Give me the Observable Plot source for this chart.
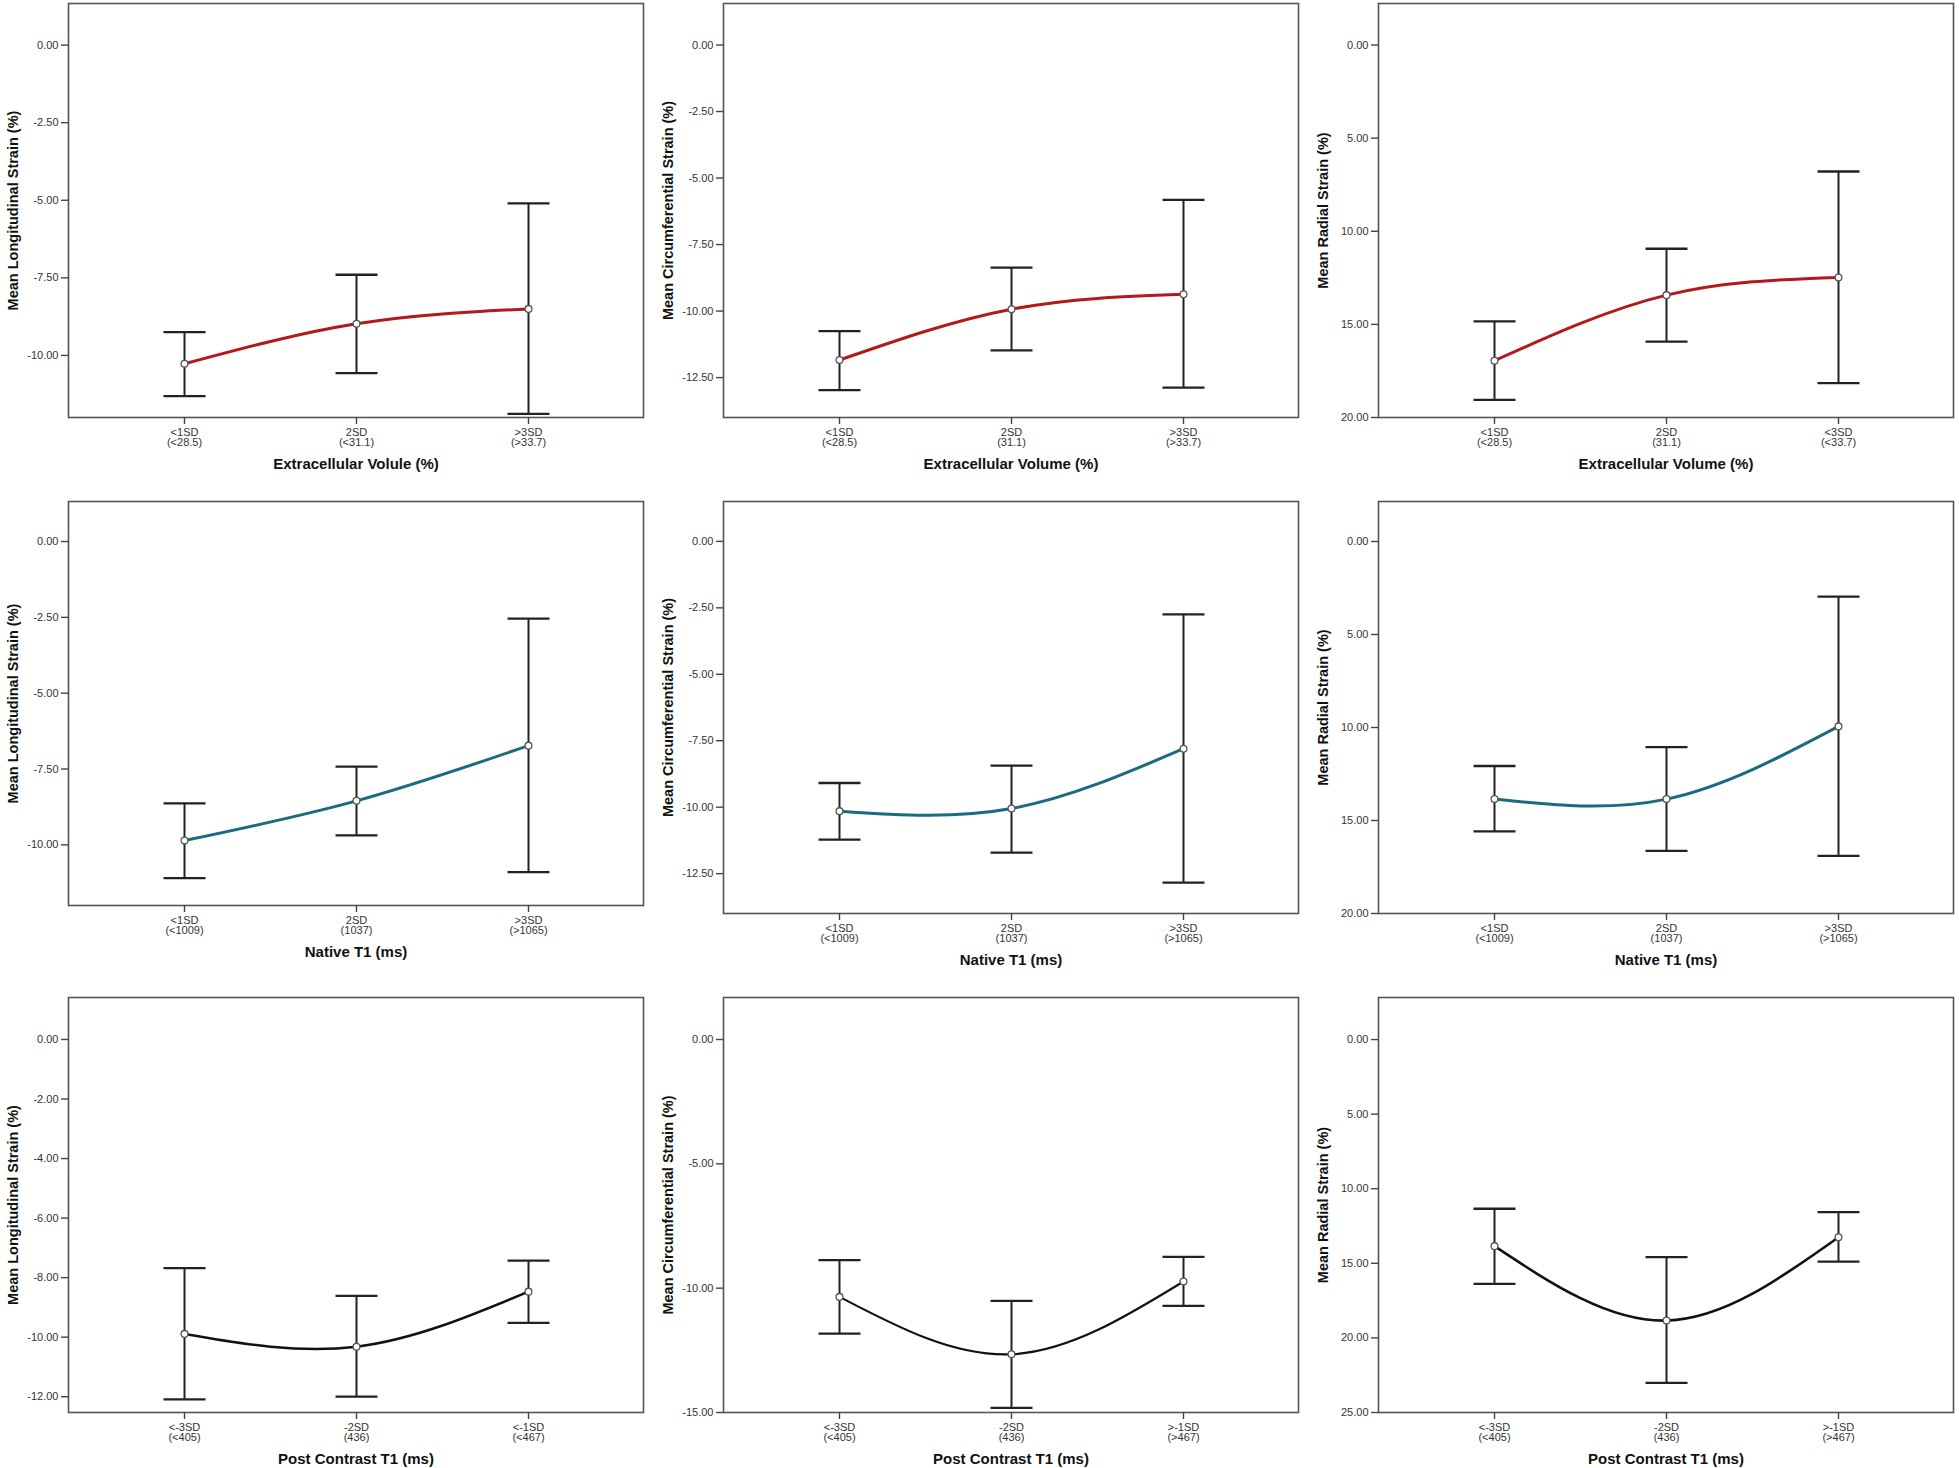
<!DOCTYPE html>
<html>
<head>
<meta charset="utf-8">
<script src="https://cdn.jsdelivr.net/npm/d3@7"></script>
<script src="https://cdn.jsdelivr.net/npm/@observablehq/plot@0.6"></script>
<style>
  html, body { margin: 0; padding: 0; background: #fff; }
  #root { position: relative; width: 1959px; height: 1468px; background: #fff; overflow: hidden; }
  .panel { position: absolute; }
  .panel svg { display: block; overflow: visible; }
</style>
</head>
<body>
<div id="root"></div>
<script>
// ---- category tick labels ----
const ecvLabelsLS = ["<1SD\n(<28.5)", "2SD\n(<31.1)", ">3SD\n(>33.7)"];
const ecvLabelsCS = ["<1SD\n(<28.5)", "2SD\n(31.1)", ">3SD\n(>33.7)"];
const ecvLabelsRS = ["<1SD\n(<28.5)", "2SD\n(31.1)", "<3SD\n(<33.7)"];
const nativeLabels = ["<1SD\n(<1009)", "2SD\n(1037)", ">3SD\n(>1065)"];
const postLabelsLS = ["<-3SD\n(<405)", "-2SD\n(436)", "<-1SD\n(<467)"];
const postLabels = ["<-3SD\n(<405)", "-2SD\n(436)", ">-1SD\n(>467)"];

// ---- axis titles ----
const yTitleLS = "Mean Longitudinal Strain (%)";
const yTitleCS = "Mean Circumferential Strain (%)";
const yTitleRS = "Mean Radial Strain (%)";
const xTitleEcv1 = "Extracellular Volule (%)";
const xTitleEcv = "Extracellular Volume (%)";
const xTitleNative = "Native T1 (ms)";
const xTitlePost = "Post Contrast T1 (ms)";

// ---- values: mean and 95% CI ends ----
const ecvLSMean = [-10.27, -8.98, -8.50];
const ecvLSLow  = [-11.31, -10.57, -11.88];
const ecvLSHigh = [-9.25, -7.40, -5.10];

const ecvCSMean = [-11.84, -9.93, -9.37];
const ecvCSLow  = [-12.97, -11.48, -12.88];
const ecvCSHigh = [-10.75, -8.37, -5.82];

const ecvRSMean = [16.95, 13.43, 12.48];
const ecvRSLow  = [14.84, 10.94, 6.79];
const ecvRSHigh = [19.05, 15.93, 18.15];

const natLSMean = [-9.86, -8.55, -6.73];
const natLSLow  = [-11.10, -9.69, -10.90];
const natLSHigh = [-8.63, -7.42, -2.54];

const natCSMean = [-10.15, -10.05, -7.80];
const natCSLow  = [-11.22, -11.71, -12.84];
const natCSHigh = [-9.09, -8.44, -2.75];

const natRSMean = [13.85, 13.85, 9.94];
const natRSLow  = [12.07, 11.05, 2.96];
const natRSHigh = [15.59, 16.63, 16.90];

const postLSMean = [-9.89, -10.32, -8.47];
const postLSLow  = [-12.09, -12.00, -9.52];
const postLSHigh = [-7.68, -8.61, -7.43];

const postCSMean = [-10.35, -12.66, -9.73];
const postCSLow  = [-11.83, -14.81, -10.71];
const postCSHigh = [-8.87, -10.51, -8.74];

const postRSMean = [13.85, 18.84, 13.25];
const postRSLow  = [11.34, 14.59, 11.57];
const postRSHigh = [16.38, 23.02, 14.88];

// ---- y axis ticks ----
const ticksLS = [0, -2.5, -5, -7.5, -10];
const ticksCS = [0, -2.5, -5, -7.5, -10, -12.5];
const ticksRS = [0, 5, 10, 15, 20];
const ticksLS3 = [0, -2, -4, -6, -8, -10, -12];
const ticksCS3 = [0, -5, -10, -15];
const ticksRS3 = [0, 5, 10, 15, 20, 25];

const red = "#b3191c";
const teal = "#1b6a80";
const black = "#111111";

const panels = [
  {left: 0,    top: 0,   fh: 414, labels: ecvLabelsLS, mean: ecvLSMean, low: ecvLSLow, high: ecvLSHigh, domain: [-12, 1.34], reverse: false, ticks: ticksLS, yTitle: yTitleLS, xTitle: xTitleEcv1, color: red, lw: 3},
  {left: 655,  top: 0,   fh: 414, labels: ecvLabelsCS, mean: ecvCSMean, low: ecvCSLow, high: ecvCSHigh, domain: [-14, 1.56], reverse: false, ticks: ticksCS, yTitle: yTitleCS, xTitle: xTitleEcv, color: red, lw: 3},
  {left: 1310, top: 0,   fh: 414, labels: ecvLabelsRS, mean: ecvRSMean, low: ecvRSLow, high: ecvRSHigh, domain: [-2.23, 20], reverse: true, ticks: ticksRS, yTitle: yTitleRS, xTitle: xTitleEcv, color: red, lw: 3},
  {left: 0,    top: 498, fh: 404, labels: nativeLabels, mean: natLSMean, low: natLSLow, high: natLSHigh, domain: [-12, 1.32], reverse: false, ticks: ticksLS, yTitle: yTitleLS, xTitle: xTitleNative, color: teal, lw: 3},
  {left: 655,  top: 498, fh: 412, labels: nativeLabels, mean: natCSMean, low: natCSLow, high: natCSHigh, domain: [-14, 1.5], reverse: false, ticks: ticksCS, yTitle: yTitleCS, xTitle: xTitleNative, color: teal, lw: 3},
  {left: 1310, top: 498, fh: 412, labels: nativeLabels, mean: natRSMean, low: natRSLow, high: natRSHigh, domain: [-2.15, 20], reverse: true, ticks: ticksRS, yTitle: yTitleRS, xTitle: xTitleNative, color: teal, lw: 3},
  {left: 0,    top: 994, fh: 415, labels: postLabelsLS, mean: postLSMean, low: postLSLow, high: postLSHigh, domain: [-12.53, 1.41], reverse: false, ticks: ticksLS3, yTitle: yTitleLS, xTitle: xTitlePost, color: black, lw: 2.6},
  {left: 655,  top: 994, fh: 415, labels: postLabels, mean: postCSMean, low: postCSLow, high: postCSHigh, domain: [-15, 1.69], reverse: false, ticks: ticksCS3, yTitle: yTitleCS, xTitle: xTitlePost, color: black, lw: 2.2},
  {left: 1310, top: 994, fh: 415, labels: postLabels, mean: postRSMean, low: postRSLow, high: postRSHigh, domain: [-2.82, 25], reverse: true, ticks: ticksRS3, yTitle: yTitleRS, xTitle: xTitlePost, color: black, lw: 2.6}
];

// horizontal cap symbol for error bars
const capSymbol = {
  draw(context, size) {
    const w = Math.sqrt(size / Math.PI);
    context.moveTo(-w, 0);
    context.lineTo(w, 0);
  }
};

const root = document.getElementById("root");
const font = "'Liberation Sans', Arial, Helvetica, sans-serif";

for (const p of panels) {
  const rows = p.labels.map((label, i) => ({label, mean: p.mean[i], low: p.low[i], high: p.high[i]}));
  const marginTop = 3, marginBottom = 60;
  const chart = Plot.plot({
    width: 649,
    height: marginTop + p.fh + marginBottom,
    marginLeft: 68,
    marginRight: 6,
    marginTop,
    marginBottom,
    style: {fontFamily: font, background: "transparent", overflow: "visible", color: "#333"},
    x: {type: "point", domain: p.labels, padding: 2 / 3},
    y: {domain: p.domain, reverse: p.reverse},
    marks: [
      Plot.frame({stroke: "#555", strokeWidth: 1.6}),
      Plot.axisY({
        ticks: p.ticks, tickFormat: d => d.toFixed(2), tickSize: 7, tickPadding: 3,
        fontSize: 11, fill: "#333", stroke: "#444", strokeWidth: 1.4, label: null
      }),
      Plot.axisX({
        tickSize: 7, tickPadding: 4, fontSize: 11, lineHeight: 0.95,
        fill: "#333", stroke: "#444", strokeWidth: 1.4, label: null, tickFormat: d => d
      }),
      Plot.text([p.yTitle], {
        frameAnchor: "left", rotate: -90, dx: -55, text: d => d,
        fontSize: 14.5, fontWeight: "bold", fill: "#111", textAnchor: "middle", lineAnchor: "middle"
      }),
      Plot.text([p.xTitle], {
        frameAnchor: "bottom", dy: 47, text: d => d,
        fontSize: 15, fontWeight: "bold", fill: "#111", textAnchor: "middle", lineAnchor: "middle"
      }),
      Plot.ruleX(rows, {x: "label", y1: "low", y2: "high", stroke: "#222", strokeWidth: 2}),
      Plot.dot(rows, {x: "label", y: "low", symbol: capSymbol, r: 21, stroke: "#222", strokeWidth: 2.3, fill: "none"}),
      Plot.dot(rows, {x: "label", y: "high", symbol: capSymbol, r: 21, stroke: "#222", strokeWidth: 2.3, fill: "none"}),
      Plot.line(rows, {x: "label", y: "mean", curve: "natural", stroke: p.color, strokeWidth: p.lw}),
      Plot.dot(rows, {x: "label", y: "mean", r: 3.4, stroke: "#555", fill: "white", strokeWidth: 1.3})
    ]
  });
  const div = document.createElement("div");
  div.className = "panel";
  div.style.left = p.left + "px";
  div.style.top = p.top + "px";
  div.appendChild(chart);
  root.appendChild(div);
}
</script>
</body>
</html>
